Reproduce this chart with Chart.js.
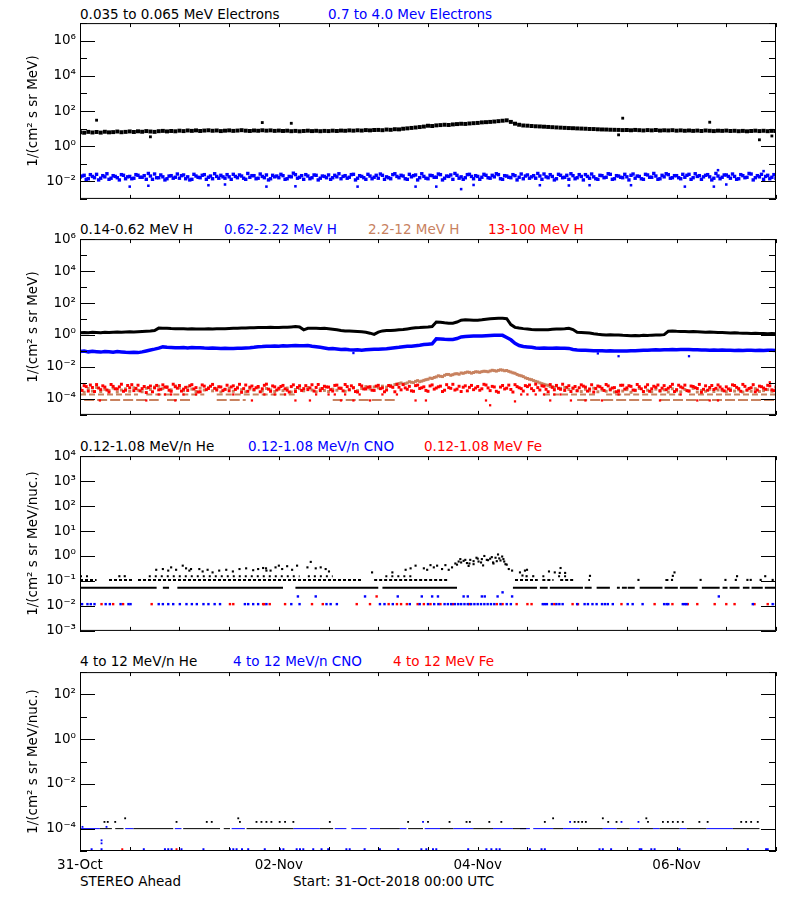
<!DOCTYPE html>
<html>
<head>
<meta charset="utf-8">
<script src="https://cdn.jsdelivr.net/npm/chart.js@4.4.1/dist/chart.umd.min.js"></script>
<style>
  body { margin: 0; background: #fff; width: 800px; height: 900px; position: relative; overflow: hidden;
         font-family: 'DejaVu Sans', sans-serif; font-size: 13.5px; color: #000; }
  .lbl { position: absolute; white-space: nowrap; line-height: 16px; }
  canvas { position: absolute; left: 0; }
</style>
</head>
<body>
<div class="lbl" style="left:80px;top:6px">0.035 to 0.065 MeV Electrons</div>
<div class="lbl" style="left:328px;top:6px;color:#0000ff">0.7 to 4.0 Mev Electrons</div>

<div class="lbl" style="left:80px;top:221px">0.14-0.62 MeV H</div>
<div class="lbl" style="left:224px;top:221px;color:#0000ff">0.62-2.22 MeV H</div>
<div class="lbl" style="left:368px;top:221px;color:#c8825f">2.2-12 MeV H</div>
<div class="lbl" style="left:488px;top:221px;color:#ff0000">13-100 MeV H</div>

<div class="lbl" style="left:80px;top:438px">0.12-1.08 MeV/n He</div>
<div class="lbl" style="left:248px;top:438px;color:#0000ff">0.12-1.08 MeV/n CNO</div>
<div class="lbl" style="left:424px;top:438px;color:#ff0000">0.12-1.08 MeV Fe</div>

<div class="lbl" style="left:80px;top:653px">4 to 12 MeV/n He</div>
<div class="lbl" style="left:233px;top:653px;color:#0000ff">4 to 12 MeV/n CNO</div>
<div class="lbl" style="left:393px;top:653px;color:#ff0000">4 to 12 MeV Fe</div>

<div class="lbl" style="left:80px;top:873px">STEREO Ahead</div>
<div class="lbl" style="left:293px;top:873px">Start: 31-Oct-2018 00:00 UTC</div>

<canvas id="p1" width="800" height="200" style="top:11px"></canvas>
<canvas id="p2" width="800" height="200" style="top:227px"></canvas>
<canvas id="p3" width="800" height="199" style="top:444px"></canvas>
<canvas id="p4" width="800" height="231" style="top:660px"></canvas>

<script>
// ---- time axis (hours since 31-Oct-2018 00:00 UTC) ----
const xTickHours = [0, 12, 24, 36, 48, 60, 72, 84, 96, 108, 120, 132, 144, 156, 168];
const xTickLabels = ['31-Oct', '', '', '', '02-Nov', '', '', '', '04-Nov', '', '', '', '06-Nov', '', ''];

// ---- y tick decades and labels per panel ----
const p1Ticks = [1e-3, 1e-2, 1e-1, 1e0, 1e1, 1e2, 1e3, 1e4, 1e5, 1e6, 1e7];
const p1Labels = ['', '10⁻²', '', '10⁰', '', '10²', '', '10⁴', '', '10⁶', ''];
const p2Ticks = [1e-5, 1e-4, 1e-3, 1e-2, 1e-1, 1e0, 1e1, 1e2, 1e3, 1e4, 1e5, 1e6];
const p2Labels = ['', '10⁻⁴', '', '10⁻²', '', '10⁰', '', '10²', '', '10⁴', '', '10⁶'];
const p3Ticks = [1e-3, 1e-2, 1e-1, 1e0, 1e1, 1e2, 1e3, 1e4];
const p3Labels = ['10⁻³', '10⁻²', '10⁻¹', '10⁰', '10¹', '10²', '10³', '10⁴'];
const p4Ticks = [1e-5, 1e-4, 1e-3, 1e-2, 1e-1, 1e0, 1e1, 1e2, 1e3];
const p4Labels = ['', '10⁻⁴', '', '10⁻²', '', '10⁰', '', '10²', ''];

// ---- panel 1: electrons, hourly values from h0 ----
const eLow = [
  6.2, 5.8, 6.5, 6.0, 6.4, 5.9, 6.6, 6.1, 6.3, 6.8, 6.2, 6.5,
  6.9, 6.4, 7.0, 6.6, 7.2, 6.8, 6.5, 7.1, 7.4, 6.9, 7.3, 7.0,
  7.6, 7.2, 7.8, 7.4, 7.9, 7.3, 7.7, 8.0, 7.5, 7.8, 7.2, 7.6,
  7.9, 7.4, 7.7, 8.1, 7.6, 7.3, 7.8, 7.5, 8.0, 7.6, 7.9, 7.4,
  7.7, 7.3, 7.6, 7.1, 7.4, 7.0, 7.3, 7.6, 7.2, 7.5, 7.1, 7.4,
  7.2, 7.6, 7.3, 7.7, 7.5, 7.9, 7.6, 8.0, 7.7, 8.2, 7.9, 8.3,
  8.4, 8.1, 8.8, 8.5, 9.2, 9.0, 9.8, 10.3, 10.9, 11.5, 12.2, 13.0,
  14.5, 14.0, 15.2, 15.8, 16.5, 16.0, 17.2, 18.0, 18.8, 18.4, 19.5, 20.3,
  21.0, 22.5, 23.2, 24.0, 25.1, 26.5, 28.0, 29.5, 24.0, 19.0, 16.5, 15.0,
  14.6, 14.0, 13.5, 13.2, 12.8, 12.4, 12.0, 11.6, 11.3, 11.0, 10.7, 10.5,
  10.2, 10.0, 9.8, 9.5, 9.4, 9.1, 8.9, 8.8, 8.6, 8.5, 8.4, 8.2,
  8.3, 8.0, 8.4, 8.1, 7.8, 8.2, 7.9, 8.3, 7.7, 8.0, 7.8, 8.1,
  7.6, 7.9, 7.5, 7.8, 7.4, 7.7, 7.3, 7.8, 7.5, 7.2, 7.6, 7.4,
  7.7, 7.3, 7.5, 7.1, 7.4, 7.0, 7.3, 7.6, 7.2, 7.5, 7.1, 7.4, 7.2
];
const eLowOutHours = [4, 17, 44, 51, 130, 131, 152, 164, 167];
const eLowOutVals = [30, 3.4, 22, 20, 4.4, 39, 23, 2.3, 3.8];

// blue band: hourly (eHighA from h0) and half-hour (eHighB from h0.5)
const eHighA = [
  0.017, 0.022, 0.014, 0.019, 0.025, 0.015, 0.018, 0.013, 0.021, 0.016, 0.024, 0.014,
  0.019, 0.015, 0.022, 0.017, 0.013, 0.020, 0.026, 0.016, 0.018, 0.014, 0.021, 0.017,
  0.015, 0.023, 0.018, 0.013, 0.020, 0.016, 0.024, 0.017, 0.014, 0.019, 0.022, 0.015,
  0.018, 0.025, 0.016, 0.020, 0.013, 0.017, 0.021, 0.015, 0.019, 0.023, 0.014, 0.018,
  0.016, 0.021, 0.014, 0.018, 0.024, 0.017, 0.013, 0.020, 0.016, 0.022, 0.015, 0.019,
  0.023, 0.016, 0.018, 0.014, 0.021, 0.017, 0.025, 0.015, 0.019, 0.013, 0.020, 0.017,
  0.015, 0.022, 0.018, 0.014, 0.027, 0.016, 0.020, 0.013, 0.018, 0.023, 0.016, 0.019,
  0.014, 0.021, 0.017, 0.024, 0.015, 0.019, 0.013, 0.022, 0.018, 0.016, 0.025, 0.014,
  0.019, 0.017, 0.022, 0.015, 0.018, 0.024, 0.013, 0.020, 0.016, 0.021, 0.017, 0.014,
  0.023, 0.018, 0.015, 0.020, 0.026, 0.016, 0.019, 0.014, 0.022, 0.017, 0.013, 0.021,
  0.016, 0.019, 0.024, 0.015, 0.018, 0.013, 0.021, 0.017, 0.025, 0.014, 0.020, 0.016,
  0.018, 0.022, 0.015, 0.019, 0.013, 0.023, 0.017, 0.020, 0.014, 0.018, 0.024, 0.016,
  0.021, 0.014, 0.017, 0.025, 0.016, 0.019, 0.013, 0.022, 0.018, 0.015, 0.020, 0.017,
  0.023, 0.015, 0.019, 0.014, 0.021, 0.017, 0.026, 0.016, 0.018, 0.013, 0.022, 0.017, 0.015
];
const eHighB = [
  0.020, 0.013, 0.024, 0.016, 0.012, 0.021, 0.027, 0.015, 0.019, 0.012, 0.022, 0.018,
  0.014, 0.024, 0.017, 0.021, 0.028, 0.013, 0.016, 0.023, 0.012, 0.020, 0.015, 0.026,
  0.021, 0.014, 0.012, 0.025, 0.017, 0.022, 0.013, 0.020, 0.027, 0.015, 0.018, 0.024,
  0.013, 0.019, 0.023, 0.015, 0.028, 0.021, 0.014, 0.026, 0.016, 0.012, 0.022, 0.020,
  0.025, 0.013, 0.019, 0.029, 0.015, 0.021, 0.024, 0.014, 0.023, 0.012, 0.020, 0.016,
  0.013, 0.022, 0.027, 0.019, 0.015, 0.024, 0.012, 0.021, 0.016, 0.025, 0.014, 0.022,
  0.026, 0.013, 0.016, 0.024, 0.019, 0.022, 0.014, 0.025, 0.021, 0.012, 0.027, 0.015,
  0.022, 0.017, 0.026, 0.012, 0.020, 0.023, 0.028, 0.015, 0.013, 0.024, 0.019, 0.021,
  0.013, 0.025, 0.016, 0.022, 0.027, 0.014, 0.021, 0.017, 0.024, 0.012, 0.026, 0.020,
  0.015, 0.021, 0.028, 0.013, 0.018, 0.024, 0.012, 0.025, 0.016, 0.022, 0.027, 0.014,
  0.024, 0.012, 0.019, 0.026, 0.014, 0.022, 0.016, 0.027, 0.013, 0.021, 0.017, 0.025,
  0.012, 0.026, 0.020, 0.014, 0.025, 0.017, 0.028, 0.013, 0.022, 0.027, 0.015, 0.021,
  0.016, 0.025, 0.022, 0.013, 0.027, 0.021, 0.018, 0.024, 0.012, 0.028, 0.014, 0.023,
  0.019, 0.026, 0.013, 0.024, 0.016, 0.028, 0.012, 0.021, 0.025, 0.019, 0.014, 0.024
];
const eHighOutHours = [12, 16.5, 31, 35, 45, 52, 67, 81, 86, 92, 95, 111, 118, 123, 133, 146, 153, 156, 154, 165];
const eHighOutVals = [0.005, 0.0056, 0.006, 0.0066, 0.005, 0.0052, 0.005, 0.005, 0.005, 0.0036,
                      0.0062, 0.006, 0.0058, 0.006, 0.006, 0.005, 0.005, 0.0066, 0.043, 0.038];

// ---- panel 2: protons, hourly from h0 ----
const hLow = [
  1.40, 1.45, 1.40, 1.50, 1.45, 1.40, 1.50, 1.45, 1.50, 1.55, 1.50, 1.55,
  1.60, 1.55, 1.60, 1.65, 1.70, 1.75, 1.90, 2.70, 2.60, 2.65, 2.55, 2.50,
  2.50, 2.45, 2.40, 2.45, 2.40, 2.35, 2.40, 2.45, 2.40, 2.50, 2.45, 2.50,
  2.55, 2.60, 2.65, 2.70, 2.75, 2.80, 2.85, 2.90, 2.95, 2.90, 3.00, 2.95,
  2.95, 3.00, 3.05, 3.20, 3.40, 3.20, 2.10, 2.60, 2.65, 2.60, 2.55, 2.60,
  2.45, 2.30, 2.10, 1.90, 1.80, 1.75, 1.70, 1.65, 1.60, 1.50, 1.30, 1.10,
  1.50, 1.80, 1.90, 1.90, 2.00, 2.10, 2.20, 2.40, 2.60, 2.80, 2.90, 3.10,
  3.20, 3.40, 6.50, 6.20, 5.80, 5.50, 5.40, 6.50, 8.50, 9.00, 8.60, 8.30,
  8.50, 9.00, 9.80, 10.5, 10.8, 11.0, 11.2, 10.5, 4.50, 3.00, 2.70, 2.50,
  2.40, 2.20, 2.10, 2.10, 2.15, 2.10, 2.30, 2.40, 2.40, 2.45, 2.60, 2.20,
  1.50, 1.45, 1.40, 1.35, 1.20, 1.10, 1.05, 1.00, 1.05, 1.00, 1.00, 0.95,
  0.92, 0.90, 0.93, 0.90, 0.95, 0.92, 0.98, 1.00, 1.00, 1.05, 1.70, 1.75,
  1.70, 1.68, 1.65, 1.62, 1.65, 1.60, 1.55, 1.50, 1.52, 1.48, 1.45, 1.42,
  1.40, 1.35, 1.38, 1.32, 1.30, 1.28, 1.25, 1.30, 1.22, 1.25, 1.20, 1.22, 1.20
];
const hMid = [
  0.092, 0.098, 0.088, 0.095, 0.090, 0.085, 0.094, 0.089, 0.083, 0.091, 0.086, 0.082,
  0.080, 0.084, 0.079, 0.088, 0.100, 0.115, 0.130, 0.150, 0.180, 0.170, 0.165, 0.160,
  0.158, 0.165, 0.155, 0.162, 0.158, 0.160, 0.152, 0.148, 0.155, 0.150, 0.145, 0.148,
  0.142, 0.145, 0.150, 0.148, 0.155, 0.160, 0.170, 0.185, 0.190, 0.200, 0.195, 0.205,
  0.200, 0.210, 0.205, 0.215, 0.220, 0.210, 0.215, 0.220, 0.200, 0.185, 0.170, 0.155,
  0.140, 0.145, 0.135, 0.125, 0.130, 0.118, 0.115, 0.120, 0.112, 0.118, 0.125, 0.130,
  0.128, 0.135, 0.140, 0.150, 0.160, 0.170, 0.185, 0.195, 0.200, 0.215, 0.230, 0.250,
  0.265, 0.280, 0.580, 0.560, 0.540, 0.530, 0.520, 0.600, 0.760, 0.800, 0.820, 0.850,
  0.870, 0.880, 0.900, 0.920, 0.950, 0.960, 0.950, 0.700, 0.500, 0.300, 0.220, 0.190,
  0.180, 0.170, 0.155, 0.150, 0.152, 0.148, 0.150, 0.152, 0.148, 0.150, 0.145, 0.125,
  0.115, 0.112, 0.110, 0.108, 0.105, 0.104, 0.102, 0.100, 0.103, 0.100, 0.098, 0.101,
  0.100, 0.104, 0.102, 0.106, 0.110, 0.112, 0.115, 0.118, 0.116, 0.120, 0.118, 0.122,
  0.120, 0.124, 0.122, 0.125, 0.120, 0.118, 0.115, 0.117, 0.112, 0.114, 0.110, 0.113,
  0.110, 0.112, 0.108, 0.111, 0.109, 0.112, 0.110, 0.108, 0.111, 0.109, 0.112, 0.110, 0.108
];
const hMidOutHours = [66, 125, 130, 147];
const hMidOutVals = [0.074, 0.07, 0.047, 0.047];

// 13-100 MeV H: hourly (hTopA from h0) and half-hour (hTopB from h0.5)
const hTopA = [
  4.6e-4, 6.8e-4, 3.1e-4, 5.2e-4, 7.9e-4, 3.8e-4, 5.5e-4, 2.7e-4, 6.1e-4, 4.2e-4, 8.3e-4, 3.5e-4,
  5.0e-4, 3.3e-4, 7.2e-4, 4.4e-4, 2.5e-4, 6.4e-4, 4.9e-4, 3.7e-4, 7.6e-4, 5.3e-4, 3.0e-4, 5.8e-4,
  6.9e-4, 4.1e-4, 3.4e-4, 7.8e-4, 5.1e-4, 2.8e-4, 6.3e-4, 4.5e-4, 8.1e-4, 3.6e-4, 5.6e-4, 4.0e-4,
  3.2e-4, 6.6e-4, 4.8e-4, 2.6e-4, 7.4e-4, 5.4e-4, 3.9e-4, 6.0e-4, 4.3e-4, 8.4e-4, 3.0e-4, 5.7e-4,
  4.7e-4, 7.0e-4, 3.5e-4, 5.9e-4, 2.9e-4, 6.7e-4, 4.4e-4, 3.8e-4, 7.7e-4, 5.2e-4, 3.3e-4, 6.2e-4,
  5.5e-4, 3.1e-4, 7.3e-4, 4.6e-4, 8.0e-4, 3.7e-4, 5.0e-4, 2.7e-4, 6.5e-4, 4.2e-4, 5.8e-4, 3.4e-4,
  7.1e-4, 4.9e-4, 3.6e-4, 6.1e-4, 2.8e-4, 5.4e-4, 7.9e-4, 4.0e-4, 3.2e-4, 6.8e-4, 4.5e-4, 5.7e-4,
  3.0e-4, 7.5e-4, 4.8e-4, 6.3e-4, 3.5e-4, 5.1e-4, 8.2e-4, 4.1e-4, 2.9e-4, 6.6e-4, 5.3e-4, 3.8e-4,
  6.0e-4, 4.3e-4, 7.4e-4, 3.3e-4, 5.6e-4, 2.6e-4, 6.9e-4, 4.7e-4, 3.9e-4, 7.8e-4, 5.0e-4, 3.1e-4,
  5.9e-4, 4.4e-4, 8.3e-4, 3.6e-4, 6.2e-4, 2.8e-4, 5.3e-4, 7.0e-4, 4.0e-4, 3.4e-4, 6.7e-4, 4.8e-4,
  3.2e-4, 7.6e-4, 5.5e-4, 4.2e-4, 2.7e-4, 6.4e-4, 4.6e-4, 8.0e-4, 3.7e-4, 5.1e-4, 3.0e-4, 7.2e-4,
  4.9e-4, 6.1e-4, 3.5e-4, 5.8e-4, 2.9e-4, 7.7e-4, 4.3e-4, 5.4e-4, 3.3e-4, 6.8e-4, 4.7e-4, 8.2e-4,
  3.8e-4, 5.6e-4, 7.3e-4, 3.1e-4, 6.0e-4, 4.5e-4, 2.6e-4, 6.6e-4, 5.2e-4, 3.9e-4, 7.5e-4, 4.1e-4,
  5.7e-4, 3.4e-4, 6.9e-4, 4.4e-4, 8.1e-4, 3.6e-4, 5.0e-4, 2.8e-4, 6.3e-4, 4.8e-4, 7.1e-4, 3.7e-4, 5.5e-4
];
const hTopB = [
  3.4e-4, 5.9e-4, 7.4e-4, 2.9e-4, 4.8e-4, 6.6e-4, 3.6e-4, 8.0e-4, 4.3e-4, 5.7e-4, 3.0e-4, 6.9e-4,
  7.8e-4, 4.5e-4, 3.2e-4, 6.0e-4, 5.1e-4, 2.8e-4, 7.0e-4, 4.0e-4, 5.5e-4, 3.5e-4, 8.3e-4, 4.7e-4,
  3.1e-4, 5.3e-4, 6.7e-4, 4.2e-4, 2.7e-4, 7.5e-4, 3.8e-4, 6.2e-4, 4.6e-4, 5.8e-4, 3.3e-4, 7.2e-4,
  5.6e-4, 3.9e-4, 8.2e-4, 4.4e-4, 3.0e-4, 6.4e-4, 5.0e-4, 2.8e-4, 7.1e-4, 4.1e-4, 6.5e-4, 3.6e-4,
  6.0e-4, 4.3e-4, 2.7e-4, 7.6e-4, 5.2e-4, 3.4e-4, 6.8e-4, 4.9e-4, 3.1e-4, 8.0e-4, 4.5e-4, 5.6e-4,
  3.8e-4, 7.0e-4, 4.7e-4, 3.2e-4, 5.9e-4, 6.6e-4, 2.9e-4, 7.9e-4, 4.2e-4, 5.4e-4, 3.5e-4, 6.3e-4,
  4.4e-4, 2.8e-4, 6.9e-4, 5.3e-4, 8.1e-4, 3.7e-4, 4.9e-4, 6.1e-4, 3.0e-4, 7.3e-4, 5.0e-4, 3.4e-4,
  6.5e-4, 4.1e-4, 5.7e-4, 2.9e-4, 7.8e-4, 4.6e-4, 3.6e-4, 6.2e-4, 5.4e-4, 3.2e-4, 7.0e-4, 4.8e-4,
  3.5e-4, 8.2e-4, 4.9e-4, 6.1e-4, 3.0e-4, 5.5e-4, 4.2e-4, 7.3e-4, 2.7e-4, 5.9e-4, 4.4e-4, 6.8e-4,
  7.4e-4, 3.3e-4, 5.1e-4, 6.6e-4, 4.0e-4, 7.9e-4, 3.7e-4, 4.6e-4, 8.3e-4, 5.3e-4, 2.9e-4, 6.0e-4,
  5.0e-4, 6.3e-4, 3.1e-4, 7.7e-4, 4.5e-4, 5.8e-4, 3.4e-4, 6.5e-4, 4.8e-4, 2.8e-4, 7.1e-4, 4.1e-4,
  6.7e-4, 3.6e-4, 8.0e-4, 4.3e-4, 5.5e-4, 3.0e-4, 6.2e-4, 7.4e-4, 4.7e-4, 3.8e-4, 5.9e-4, 2.9e-4,
  7.2e-4, 4.9e-4, 3.3e-4, 6.4e-4, 5.1e-4, 8.1e-4, 4.0e-4, 3.5e-4, 6.9e-4, 4.6e-4, 5.6e-4, 3.2e-4,
  4.2e-4, 7.6e-4, 5.3e-4, 3.0e-4, 6.1e-4, 4.5e-4, 7.8e-4, 3.6e-4, 5.8e-4, 4.0e-4, 6.6e-4, 3.3e-4
];
const hTopLowHours = [
  4.8, 16, 19, 20.5, 22, 23, 25, 28, 37, 41.5,
  44.5, 47, 49.5, 52, 55.5, 57, 60, 61.5, 63, 64,
  66, 67.5, 70, 73, 76.5, 81, 83.5, 98, 99, 105,
  106.5, 108, 110, 112, 113.5, 114.5, 116, 118.5, 122, 126,
  130, 140, 145, 149, 152, 154, 166.5
];
const hTopLowVals = [
  8e-5, 8e-5, 1.9e-4, 1.9e-4, 1.9e-4, 8e-5, 1.9e-4, 1.9e-4, 1.9e-4, 8e-5,
  1.9e-4, 1.9e-4, 1.9e-4, 8e-5, 8e-5, 1.9e-4, 1.9e-4, 1.9e-4, 8e-5, 1.9e-4,
  8e-5, 1.9e-4, 8e-5, 1.9e-4, 1.9e-4, 8e-5, 8e-5, 8e-5, 4e-5, 7e-5,
  1.9e-4, 1.9e-4, 1.9e-4, 1.9e-4, 8e-5, 1.9e-4, 1.9e-4, 8e-5, 8e-5, 8e-5,
  1.9e-4, 8e-5, 1.9e-4, 8e-5, 8e-5, 8e-5, 1.1e-3
];

// 2.2-12 MeV H: hourly from h0, extra half-hour points in the event from h76.5, and two count-level rows
const hHigh = [
  3.8e-4, 2.6e-4, 4.5e-4, 3.1e-4, 5.2e-4, 2.9e-4, 4.0e-4, 3.4e-4, 4.8e-4, 2.7e-4, 3.6e-4, 4.3e-4,
  3.0e-4, 5.0e-4, 3.5e-4, 2.8e-4, 4.6e-4, 3.9e-4, 5.6e-4, 6.2e-4, 4.4e-4, 5.8e-4, 3.7e-4, 6.5e-4,
  4.9e-4, 3.3e-4, 5.4e-4, 4.1e-4, 2.9e-4, 4.7e-4, 3.6e-4, 5.1e-4, 3.2e-4, 4.4e-4, 2.7e-4, 3.9e-4,
  4.6e-4, 3.0e-4, 5.3e-4, 3.8e-4, 2.8e-4, 4.2e-4, 3.5e-4, 5.0e-4, 3.1e-4, 4.5e-4, 3.7e-4, 2.9e-4,
  4.0e-4, 3.3e-4, 4.8e-4, 2.7e-4, 3.9e-4, 4.4e-4, 3.2e-4, 5.2e-4, 3.6e-4, 2.8e-4, 4.3e-4, 3.4e-4,
  2.9e-4, 4.1e-4, 3.5e-4, 4.7e-4, 3.0e-4, 3.8e-4, 5.0e-4, 3.3e-4, 4.5e-4, 5.9e-4, 4.2e-4, 5.6e-4,
  4.9e-4, 6.3e-4, 5.5e-4, 7.0e-4, 7.9e-4, 9.2e-4, 8.5e-4, 1.0e-3, 1.1e-3, 1.25e-3, 1.2e-3, 1.45e-3,
  1.7e-3, 1.9e-3, 2.4e-3, 2.6e-3, 3.0e-3, 3.4e-3, 3.3e-3, 3.8e-3, 4.2e-3, 4.4e-3, 4.6e-3, 4.5e-3,
  4.9e-3, 5.1e-3, 5.3e-3, 5.6e-3, 5.9e-3, 6.1e-3, 6.3e-3, 6.0e-3, 4.8e-3, 4.0e-3, 3.0e-3, 2.5e-3,
  1.9e-3, 1.6e-3, 1.25e-3, 1.0e-3, 8.2e-4, 7.0e-4, 5.8e-4, 6.4e-4, 4.6e-4, 5.2e-4, 3.9e-4, 4.4e-4,
  3.5e-4, 2.9e-4, 4.0e-4, 3.2e-4, 4.7e-4, 2.8e-4, 3.6e-4, 3.0e-4, 4.2e-4, 2.7e-4, 3.4e-4, 3.1e-4,
  3.8e-4, 2.6e-4, 3.3e-4, 4.5e-4, 2.9e-4, 3.5e-4, 2.8e-4, 4.1e-4, 3.0e-4, 3.7e-4, 2.7e-4, 4.3e-4,
  3.2e-4, 2.8e-4, 3.9e-4, 3.1e-4, 4.6e-4, 2.7e-4, 3.4e-4, 3.0e-4, 4.0e-4, 2.9e-4, 3.6e-4, 3.3e-4,
  2.8e-4, 4.2e-4, 3.1e-4, 3.7e-4, 2.7e-4, 3.5e-4, 3.0e-4, 4.4e-4, 2.9e-4, 3.3e-4, 3.8e-4, 3.0e-4, 3.5e-4
];
const hHighEvent = [
  8.5e-4, 1.0e-3, 9.0e-4, 1.2e-3, 1.05e-3, 1.4e-3, 1.3e-3, 1.6e-3, 2.0e-3, 2.2e-3,
  2.8e-3, 2.5e-3, 3.4e-3, 3.0e-3, 3.7e-3, 3.5e-3, 4.0e-3, 4.8e-3, 4.1e-3, 5.0e-3,
  4.6e-3, 5.4e-3, 5.0e-3, 6.2e-3, 5.5e-3, 6.6e-3, 5.8e-3, 5.3e-3, 4.3e-3, 3.4e-3,
  2.8e-3, 2.1e-3, 1.7e-3, 1.4e-3, 1.15e-3, 9.0e-4, 7.5e-4, 6.0e-4, 5.2e-4
];
const hHighLevelA = 1.9e-4;
const hHighRunsA = [[0, 14], [16, 30], [33, 52], [112, 125], [127, 145], [147, 168]];
const hHighLevelB = 8.7e-5;
const hHighRunsB = [[1, 19], [21, 27], [33, 40], [61, 76], [120, 138], [140, 168]];

// ---- panel 3: 0.12-1.08 MeV/n ----
const he3Floor = 0.054;
const he3FloorRuns = [[0, 18.5], [20, 21.5], [23.5, 49], [52, 72], [73, 91], [104.5, 110.3], [111, 112.9],
  [113.4, 121.4], [121.8, 123.5], [124.7, 127.9], [129.6, 130.3], [130.8, 132], [132.2, 133.9], [135.1, 140.6],
  [141.1, 144.3], [144.8, 149.1], [150.1, 154.4], [155.1, 156.3], [156.8, 159.2], [160, 161.6], [162.1, 164.8], [165.3, 168]];
const he3Row = 0.11;
const he3RowRuns = [[0, 4], [7, 13], [14, 68], [71, 89], [105, 110.5], [111.6, 114.3], [115.9, 119.1], [122.7, 123.1], [141.3, 142.1]];
const he3Row2 = 0.155;
const he3Row2Runs = [[0, 2.5], [16.6, 53], [55, 61], [73.7, 80.5], [111.6, 112.6], [115.4, 117.9]];
const he3DotHours = [
  18.4, 20, 21.3, 22, 23.2, 24.8, 25.6, 26.4, 26.8, 28.8, 29.6, 30.8, 32, 33.6, 35.3, 36.9, 38.5, 40.1, 41.8, 43, 44.2, 45,
  44.9, 46, 47.2, 48, 48.8, 50, 51.2, 52.4, 54.9, 55.7, 56.9, 58.1, 59.3, 60.1, 70.5, 75.4, 78.6, 79.8, 81, 83, 83.8,
  84.6, 85.4, 86.2, 87.4, 88.2, 89, 89.8, 90.6, 91.4, 91.8, 92.6, 93.4, 94.2, 95, 95.7, 96.2, 97, 97.6, 98.2, 99, 99.7,
  100.3, 100.9, 101.5, 102.2, 102.7, 103.5, 104.3, 107.9,
  91, 92, 93, 94, 95, 96, 96.8, 98.5, 99.4, 100.6, 101.2, 101.9, 102.4, 103, 93.8, 97.3, 99.8,
  106.2, 106.8, 107.4, 107.8, 109.4, 113.2, 114.6, 115.8, 116, 117.1, 123.1, 143.1, 143.5, 158.6, 165.4, 9.5, 10.8,
  134.8, 142.9, 149.8, 155.8, 158.3, 161.1, 161.9, 164.3, 167.2
];
const he3DotVals = [
  0.28, 0.30, 0.26, 0.35, 0.28, 0.41, 0.32, 0.26, 0.30, 0.30, 0.24, 0.28, 0.22, 0.26, 0.28, 0.24, 0.30, 0.32, 0.27, 0.30, 0.33, 0.26,
  0.32, 0.26, 0.35, 0.41, 0.30, 0.39, 0.28, 0.41, 0.35, 0.58, 0.32, 0.35, 0.30, 0.24, 0.22, 0.22, 0.28, 0.32, 0.41, 0.32, 0.28,
  0.43, 0.35, 0.41, 0.30, 0.43, 0.28, 0.35, 0.50, 0.60, 0.75, 0.64, 0.52, 0.70, 0.47, 0.85, 0.60, 0.75, 1.0, 0.70, 0.78, 0.55,
  0.85, 1.15, 0.66, 0.75, 0.47, 0.30, 0.26, 0.28,
  0.45, 0.55, 0.70, 0.50, 0.62, 0.78, 0.55, 0.68, 0.90, 0.62, 0.80, 0.95, 0.60, 0.45, 0.40, 0.42, 0.50,
  0.22, 0.165, 0.26, 0.155, 0.155, 0.24, 0.22, 0.21, 0.33, 0.21, 0.16, 0.16, 0.22, 0.155, 0.155, 0.155, 0.155,
  0.11, 0.11, 0.11, 0.11, 0.11, 0.11, 0.11, 0.11, 0.11
];
const cno3Level = 0.0118;
const cno3Hours = [0, 0.5, 1.8, 2.6, 3.5, 6.2, 7.2, 9.8, 11.7, 12.2, 19, 20, 21.3, 22.5, 24.1, 25.7, 27, 28.2, 29.8, 31,
  32.5, 33.8, 39.8, 40.6, 41.8, 43, 45, 51, 53, 59.5, 60.5, 62, 72.4, 73.5, 75.5, 79.6, 82, 84, 85.5, 86.5, 88, 88.8,
  89.6, 90.5, 91.3, 92, 92.8, 93.6, 94.4, 95.2, 96, 96.8, 97.6, 98.4, 99.2, 100, 101.5, 103, 104, 111.7, 112.2, 112.7,
  113.9, 115, 115.7, 116.5, 120, 121.8, 122.6, 123.7, 124.7, 126, 126.7, 127.4, 128.6, 132.2, 133.4, 135.8, 141,
  141.6, 142, 145.5, 146, 146.4, 162.4, 167.2, 168];
const cno3UpHours = [52.6, 56.9, 68.8, 76.7, 82.5, 85, 86.4, 92.6, 93.6, 97, 97.7, 100.8, 102, 104.3, 154.2];
const cno3UpVals = [0.024, 0.024, 0.024, 0.024, 0.024, 0.024, 0.024, 0.024, 0.024, 0.024, 0.024, 0.024, 0.035, 0.024, 0.024];
const fe3Hours = [5.2, 8, 10.4, 17.3, 36.2, 37, 44.2, 44.5, 45.8, 49.5, 56, 58.6, 66.8, 70, 74.5, 76.5, 77.5, 78.9, 81.5,
  83, 84.6, 87, 90, 94, 100.6, 102, 105.4, 108, 109, 114.5, 118.9, 120.2, 130.7, 138.7, 143, 146.7, 149, 153.2, 156,
  158, 162.8, 166];
const fe3UpHours = [71.6];
const fe3UpVals = [0.024];

// ---- panel 4: 4 to 12 MeV/n ----
const p4Level = 1e-4;
const he4Runs = [[4.8, 7.7], [8.5, 10.5], [12.9, 22.5], [24.9, 33.8], [34.7, 36.2], [40.2, 51.5], [57.9, 61.1],
  [72.4, 77.2], [79.2, 82.8], [86.9, 90.1], [94.9, 99.7], [104.5, 107.7], [114.2, 116.6], [120.6, 126.2],
  [129.5, 132.7], [135.1, 138.3], [139.9, 144.7], [146.4, 151.2], [157.6, 164]];
const cno4Runs = [[0, 4.8], [10.9, 12.9], [22.9, 24.5], [36.6, 39.8], [51.5, 57.9], [61.5, 64.3], [65.5, 69.2],
  [70, 72.4], [77.2, 78.8], [83.2, 86.9], [90.1, 94.9], [99.7, 104.5], [106.2, 108.6], [109.4, 114.2],
  [116.6, 120.6], [126.2, 129.5], [132.7, 135.1], [138.3, 139.9], [144.7, 146.4], [151.2, 157.6]];
const he4DotHours = [5.9, 6.7, 8.5, 10.9, 23.3, 30.6, 31.8, 38.2, 38.6, 42.6, 43.8, 45, 46.2, 48.2, 49.5, 51.5, 60.3,
  79.2, 84, 89.2, 93.3, 94.1, 98.8, 101.7, 112.2, 114.2, 119.4, 120.3, 121.2, 122.1, 126.2, 127.5, 129.5, 136.7,
  137.1, 140.7, 141.9, 143.1, 144.3, 145.5, 149.5, 151.5, 159.6, 160.8, 162, 163.6];
const he4DotVals = [2e-4, 2e-4, 2e-4, 2.9e-4, 2e-4, 2e-4, 2e-4, 2.9e-4, 2e-4, 2e-4, 2e-4, 2e-4, 2e-4, 2e-4, 2e-4, 2e-4, 2e-4,
  2e-4, 2e-4, 2e-4, 2e-4, 2e-4, 2e-4, 2e-4, 2e-4, 2.9e-4, 2e-4, 2e-4, 2e-4, 2e-4, 2.9e-4, 2e-4, 2e-4, 2.9e-4,
  2e-4, 2e-4, 2e-4, 2e-4, 2e-4, 2e-4, 2e-4, 2e-4, 2e-4, 2e-4, 2e-4, 2e-4];
const cno4DotHours = [82.8, 118.3, 130.7, 134.8, 0.6, 6.4, 5.2, 5.2];
const cno4DotVals = [2e-4, 2e-4, 2e-4, 2e-4, 1.2e-4, 1.2e-4, 3e-5, 2.2e-5];
const p4LowLevel = 1.2e-5;
const cno4LowHours = [2.8, 5.2, 15.4, 20.5, 21.3, 22.1, 24.5, 29.8, 36.2, 37.0, 37.8, 39.1, 40.6, 44.6, 48.3, 49.1,
  52.3, 53.1, 53.9, 56.3, 58.3, 59.9, 64.3, 65.1, 68.7, 72.4, 76.8, 82.4, 83.6, 85.2, 86, 93.7, 98.1, 99.3, 100.5,
  101.3, 108.6, 111.4, 112.2, 125.4, 126.2, 128.2, 135.1, 135.5, 137.9, 138.7, 144.7, 161.2, 165.6, 166];
const fe4LowHours = [10.2, 23.3];

// ---- colours ----
const BLACK = '#000000', BLUE = '#0000ff', SIENNA = '#c8825f', RED = '#ff0000';

// ---- helpers that turn the arrays into Chart.js points ----
function hourly(vals, start) { return vals.map((v, i) => ({x: start + i, y: v})); }
function pts(hours, vals) { return hours.map((h, i) => ({x: h, y: Array.isArray(vals) ? vals[i] : vals})); }
function runs(list, v) {
  const out = [];
  list.forEach(([a, b]) => out.push({x: a, y: v}, {x: b, y: v}, {x: b, y: null}));
  return out;
}
function dots(data, color, r) {
  return {data, showLine: false, pointStyle: 'rect', pointRadius: r, pointBorderWidth: 0,
          pointBackgroundColor: color, borderColor: color};
}
function line(data, color, w, dash) {
  return {data, showLine: true, pointRadius: 0, borderColor: color, borderWidth: w,
          borderDash: dash || [], spanGaps: false, tension: 0};
}

// frame box plus inward tick marks on all four sides, like the IDL plot
const idlFrame = {
  id: 'idlFrame',
  afterDatasetsDraw(chart) {
    const {ctx, chartArea: a, scales: {x, y}} = chart;
    ctx.save();
    ctx.strokeStyle = '#000';
    ctx.lineWidth = 1;
    ctx.strokeRect(a.left + 0.5, a.top + 0.5, a.right - a.left - 1, a.bottom - a.top - 1);
    ctx.beginPath();
    y.ticks.forEach(t => {
      const py = Math.round(y.getPixelForValue(t.value)) + 0.5;
      const len = t.label ? 15 : 7;
      ctx.moveTo(a.left, py); ctx.lineTo(a.left + len, py);
      ctx.moveTo(a.right, py); ctx.lineTo(a.right - len, py);
    });
    x.ticks.forEach(t => {
      const px = Math.round(x.getPixelForValue(t.value)) + 0.5;
      ctx.moveTo(px, a.bottom); ctx.lineTo(px, a.bottom - 4);
      ctx.moveTo(px, a.top); ctx.lineTo(px, a.top + 4);
    });
    ctx.stroke();
    ctx.restore();
  }
};

Chart.defaults.font.family = "'DejaVu Sans', sans-serif";
Chart.defaults.font.size = 13.5;
Chart.defaults.color = '#000';

function makeChart(id, datasets, yMin, yMax, yTicks, yLabels, yTitle, showX) {
  return new Chart(document.getElementById(id), {
    type: 'line',
    data: {datasets},
    options: {
      responsive: false,
      animation: false,
      events: [],
      layout: {padding: {top: 12, right: 24, left: 0, bottom: 0}},
      plugins: {legend: {display: false}, tooltip: {enabled: false}},
      scales: {
        x: {
          type: 'linear', min: 0, max: 168,
          grid: {display: false, drawTicks: false},
          border: {display: false},
          afterBuildTicks: s => { s.ticks = xTickHours.map(v => ({value: v})); },
          afterFit: s => { s.height = showX ? 40 : 8; },
          ticks: {display: showX, autoSkip: false, maxRotation: 0, padding: 6,
                  callback: (v, i) => xTickLabels[i]}
        },
        y: {
          type: 'logarithmic', min: yMin, max: yMax,
          grid: {display: false, drawTicks: false},
          border: {display: false},
          afterBuildTicks: s => { s.ticks = yTicks.map(v => ({value: v})); },
          afterFit: s => { s.width = 80; },
          ticks: {autoSkip: false, padding: 4, callback: (v, i) => yLabels[i]},
          title: {display: true, text: yTitle, padding: {top: 25, bottom: 0}}
        }
      }
    },
    plugins: [idlFrame]
  });
}

makeChart('p1', [
  dots(hourly(eLow, 0), BLACK, 2.8),
  dots(pts(eLowOutHours, eLowOutVals), BLACK, 2.0),
  dots(hourly(eHighA, 0), BLUE, 2.4),
  dots(hourly(eHighB, 0.5), BLUE, 2.4),
  dots(pts(eHighOutHours, eHighOutVals), BLUE, 1.8)
], 1e-3, 1e7, p1Ticks, p1Labels, '1/(cm² s sr MeV)', false);

makeChart('p2', [
  line(hourly(hLow, 0), BLACK, 3),
  line(hourly(hMid, 0), BLUE, 3.5),
  dots(pts(hMidOutHours, hMidOutVals), BLUE, 1.6),
  dots(hourly(hTopA, 0), RED, 2.1),
  dots(hourly(hTopB, 0.5), RED, 2.1),
  dots(pts(hTopLowHours, hTopLowVals), RED, 1.6),
  dots(hourly(hHigh, 0), SIENNA, 2.1),
  dots(hourly(hHighEvent, 76.5), SIENNA, 2.1),
  line(runs(hHighRunsA, hHighLevelA), SIENNA, 2, [6, 3]),
  line(runs(hHighRunsB, hHighLevelB), SIENNA, 2, [10, 3])
], 1e-5, 1e6, p2Ticks, p2Labels, '1/(cm² s sr MeV)', false);

makeChart('p3', [
  dots(pts(he3DotHours, he3DotVals), BLACK, 1.5),
  line(runs(he3FloorRuns, he3Floor), BLACK, 2),
  line(runs(he3RowRuns, he3Row), BLACK, 2, [3, 2]),
  line(runs(he3Row2Runs, he3Row2), BLACK, 2, [2, 4]),
  dots(pts(cno3Hours, cno3Level), BLUE, 1.7),
  dots(pts(cno3UpHours, cno3UpVals), BLUE, 1.7),
  dots(pts(fe3Hours, cno3Level), RED, 1.7),
  dots(pts(fe3UpHours, fe3UpVals), RED, 1.7)
], 1e-3, 1e4, p3Ticks, p3Labels, '1/(cm² s sr MeV/nuc.)', false);

makeChart('p4', [
  line(runs(he4Runs, p4Level), BLACK, 1),
  line(runs(cno4Runs, p4Level), BLUE, 1),
  dots(pts(he4DotHours, he4DotVals), BLACK, 1.3),
  dots(pts(cno4DotHours, cno4DotVals), BLUE, 1.3),
  dots(pts(cno4LowHours, p4LowLevel), BLUE, 1.4),
  dots(pts(fe4LowHours, p4LowLevel), RED, 1.4)
], 1e-5, 1e3, p4Ticks, p4Labels, '1/(cm² s sr MeV/nuc.)', true);
</script>
</body>
</html>
